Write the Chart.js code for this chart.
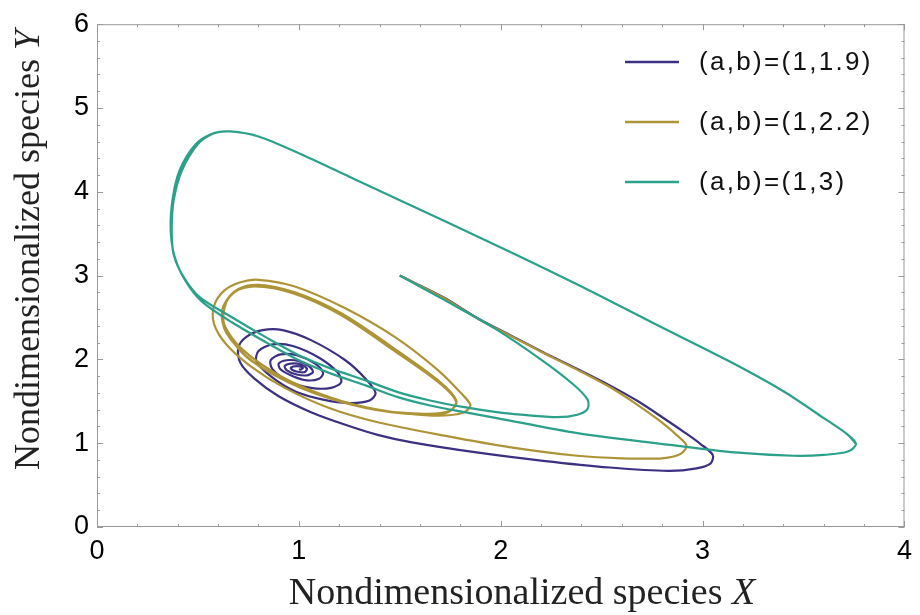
<!DOCTYPE html>
<html>
<head>
<meta charset="utf-8">
<script src="https://cdn.jsdelivr.net/npm/chart.js@4.4.0/dist/chart.umd.min.js"></script>
<style>
    html, body { margin: 0; padding: 0; background: #fff; }
    #wrap { width: 920px; height: 615px; }
</style>
</head>
<body>
<div id="wrap"><canvas id="phaseChart" width="920" height="615"></canvas></div>
<script>
// ==================== Data ====================
const seriesLabels = ['(a,b)=(1,1.9)', '(a,b)=(1,2.2)', '(a,b)=(1,3)'];
const seriesColors = ['#3b3082', '#ad9437', '#2ba08b'];

const xTicks = [0, 1, 2, 3, 4];
const yTicks = [0, 1, 2, 3, 4, 5, 6];

// b = 1.9 : spiral into the fixed point
const pathB19 = [
    [1.50,3.00],[1.72,2.735],[1.89,2.485],[2.05,2.285],[2.21,2.085],[2.38,1.885],[2.54,1.69],[2.68,1.50],
    [2.80,1.31],[2.91,1.13],[2.99,0.99],[3.05,0.86],[3.04,0.76],[2.97,0.70],[2.83,0.67],[2.54,0.71],
    [2.21,0.79],[1.88,0.89],[1.56,1.01],[1.39,1.10],[1.23,1.22],[1.06,1.37],[0.90,1.56],[0.78,1.77],
    [0.71,1.96],[0.70,2.14],[0.74,2.27],[0.82,2.35],[0.92,2.35],[1.06,2.23],[1.23,1.99],[1.33,1.77],
    [1.38,1.60],[1.35,1.51],[1.25,1.48],[1.12,1.52],[0.98,1.62],[0.86,1.80],[0.79,1.98],[0.80,2.10],
    [0.87,2.18],[0.97,2.16],[1.10,2.02],[1.19,1.85],[1.21,1.73],[1.16,1.66],[1.06,1.66],[0.95,1.74],
    [0.87,1.88],[0.86,1.99],[0.91,2.06],[0.99,2.05],[1.08,1.95],[1.12,1.84],[1.10,1.77],[1.04,1.75],
    [0.97,1.80],[0.91,1.88],[0.90,1.95],[0.94,1.99],[1.00,1.98],[1.05,1.92],[1.07,1.85],[1.04,1.81],
    [0.99,1.82],[0.94,1.87],[0.93,1.92],[0.96,1.95],[1.01,1.94],[1.04,1.89],[1.03,1.85],[1.00,1.85],
    [0.97,1.87],[0.96,1.90],[0.99,1.92],[1.02,1.90],[1.01,1.88],[1.00,1.88]
];

// b = 2.2 : small limit cycle
const pathB22 = [
    [1.50,3.00],[1.72,2.73],[1.89,2.48],[2.05,2.28],[2.21,2.08],[2.38,1.875],[2.54,1.67],[2.67,1.47],
    [2.78,1.28],[2.87,1.10],[2.92,0.97],[2.89,0.87],[2.80,0.82],[2.60,0.82],[2.38,0.85],[2.05,0.95],
    [1.72,1.09],[1.39,1.25],[1.15,1.42],[0.93,1.66],[0.76,1.92],[0.64,2.18],[0.58,2.42],[0.58,2.64],
    [0.63,2.82],[0.71,2.92],[0.80,2.95],[0.98,2.87],[1.23,2.61],[1.48,2.26],[1.69,1.87],[1.81,1.58],
    [1.85,1.45],[1.81,1.36],[1.66,1.33],[1.39,1.40],[1.15,1.55],[0.91,1.80],[0.72,2.12],[0.63,2.42],
    [0.64,2.68],[0.70,2.84],[0.80,2.89],[0.98,2.80],[1.21,2.55],[1.49,2.10],[1.70,1.73],[1.78,1.51],
    [1.75,1.39],[1.62,1.35],[1.34,1.42],[1.02,1.65],[0.77,1.98],[0.64,2.32],[0.62,2.58],[0.68,2.80],
    [0.78,2.87],[0.97,2.79],[1.20,2.54],[1.48,2.09],[1.70,1.71],[1.78,1.49],[1.74,1.37],[1.61,1.34],
    [1.33,1.42],[1.01,1.66],[0.76,1.99],[0.64,2.33],[0.62,2.59],[0.68,2.81],[0.78,2.88],[0.97,2.80],
    [1.20,2.55]
];

// b = 3 : large limit cycle
const pathB3 = [
    [1.50,3.00],[1.72,2.71],[1.97,2.37],[2.21,1.98],[2.36,1.70],[2.43,1.52],[2.43,1.41],[2.38,1.34],
    [2.28,1.31],[2.10,1.34],[1.98,1.37],[1.82,1.43],[1.65,1.51],[1.49,1.61],[1.33,1.75],[1.16,1.89],
    [1.00,2.05],[0.84,2.26],[0.67,2.50],[0.51,2.74],[0.43,2.98],[0.38,3.25],[0.37,3.55],[0.38,3.90],
    [0.42,4.25],[0.50,4.57],[0.58,4.70],[0.66,4.72],[0.80,4.66],[1.00,4.46],[1.25,4.18],[1.50,3.90],
    [1.74,3.63],[2.05,3.28],[2.40,2.87],[2.75,2.44],[3.13,1.98],[3.40,1.62],[3.60,1.30],[3.72,1.10],
    [3.76,0.99],[3.72,0.90],[3.60,0.86],[3.45,0.85],[3.16,0.89],[2.87,0.97],[2.38,1.12],[1.98,1.30],
    [1.82,1.37],[1.65,1.45],[1.49,1.55],[1.33,1.69],[1.16,1.83],[1.00,1.99],[0.84,2.20],[0.67,2.44],
    [0.52,2.69],[0.44,2.93],[0.385,3.22],[0.365,3.55],[0.375,3.92],[0.41,4.26],[0.49,4.57],[0.58,4.70],
    [0.66,4.72],[0.80,4.66],[1.00,4.46],[1.25,4.18],[1.50,3.90],[1.74,3.63],[2.05,3.28],[2.40,2.87],
    [2.75,2.44],[3.13,1.98],[3.40,1.62],[3.60,1.30],[3.72,1.10],[3.76,0.99]
];

const seriesPaths = [pathB19, pathB22, pathB3];

// ==================== Plugins ====================
const AXIS_GRAY = '#9a9a9a';

// frame with inward ticks, like the original plot
const frameTicks = {
    id: 'frameTicks',
    afterDatasetsDraw(chart) {
        const { ctx, chartArea: a, scales: { x, y } } = chart;
        ctx.save();
        ctx.strokeStyle = AXIS_GRAY;
        ctx.lineWidth = 1;
        ctx.strokeRect(a.left + 0.5, a.top + 0.5, a.right - a.left - 1, a.bottom - a.top - 1);

        ctx.beginPath();
        for (let i = 0; i <= 20; i++) {
            const len = (i % 5 === 0) ? 6 : 3;
            const px = Math.round(x.getPixelForValue(i * 0.2)) + 0.5;
            ctx.moveTo(px, a.bottom); ctx.lineTo(px, a.bottom - len);
            ctx.moveTo(px, a.top); ctx.lineTo(px, a.top + len);
        }
        for (let i = 0; i <= 30; i++) {
            const len = (i % 5 === 0) ? 6 : 3;
            const py = Math.round(y.getPixelForValue(i * 0.2)) + 0.5;
            ctx.moveTo(a.left, py); ctx.lineTo(a.left + len, py);
            ctx.moveTo(a.right, py); ctx.lineTo(a.right - len, py);
        }
        ctx.stroke();
        ctx.restore();
    }
};

// axis titles with italic variable name
function drawMixedTitle(ctx, plain, italic, cx, cy, size) {
    const roman = size + 'px "Liberation Serif", serif';
    const slant = 'italic ' + size + 'px "Liberation Serif", serif';
    ctx.font = roman;
    const w1 = ctx.measureText(plain).width;
    ctx.font = slant;
    const w2 = ctx.measureText(italic).width;
    const start = cx - (w1 + w2) / 2;
    ctx.textAlign = 'left';
    ctx.textBaseline = 'middle';
    ctx.font = roman;
    ctx.fillText(plain, start, cy);
    ctx.font = slant;
    ctx.fillText(italic, start + w1, cy);
}

const axisTitles = {
    id: 'axisTitles',
    afterDraw(chart) {
        const ctx = chart.ctx;
        ctx.save();
        ctx.fillStyle = '#222';
        drawMixedTitle(ctx, 'Nondimensionalized species ', 'X', 522, 594, 38);
        ctx.translate(30, 250);
        ctx.rotate(-Math.PI / 2);
        drawMixedTitle(ctx, 'Nondimensionalized species ', 'Y', 0, 0, 36);
        ctx.restore();
    }
};

// legend in the upper right corner of the plot
const insideLegend = {
    id: 'insideLegend',
    afterDraw(chart) {
        const ctx = chart.ctx;
        ctx.save();
        ctx.font = '26px "Liberation Sans", Arial, sans-serif';
        ctx.letterSpacing = '2.3px';
        ctx.textAlign = 'left';
        ctx.textBaseline = 'middle';
        seriesLabels.forEach((label, i) => {
            const yy = 62 + i * 60;
            ctx.strokeStyle = seriesColors[i];
            ctx.lineWidth = 2.5;
            ctx.beginPath();
            ctx.moveTo(625, yy);
            ctx.lineTo(679, yy);
            ctx.stroke();
            ctx.fillStyle = '#111';
            ctx.fillText(label, 699, yy + 1);
        });
        ctx.restore();
    }
};

// ==================== Chart ====================
const tickFont = { family: '"Liberation Sans", Arial, sans-serif', size: 27 };
const drawOrder = [2, 1, 0]; // teal on top, purple underneath

const phaseCtx = document.getElementById('phaseChart').getContext('2d');
const phaseChart = new Chart(phaseCtx, {
    type: 'scatter',
    data: {
        datasets: seriesPaths.map((path, i) => ({
            label: seriesLabels[i],
            data: path.map(p => ({ x: p[0], y: p[1] })),
            showLine: true,
            borderColor: seriesColors[i],
            borderWidth: 2.2,
            pointRadius: 0,
            tension: 0.3,
            fill: false,
            order: drawOrder[i]
        }))
    },
    options: {
        responsive: false,
        animation: false,
        layout: { padding: { top: 20, right: 10, left: 0, bottom: 0 } },
        plugins: {
            legend: { display: false },
            tooltip: { enabled: false }
        },
        scales: {
            x: {
                type: 'linear',
                min: 0,
                max: 4,
                afterFit: (scale) => { scale.height = 88; },
                afterBuildTicks: (scale) => { scale.ticks = xTicks.map(v => ({ value: v })); },
                grid: { display: false, drawTicks: false },
                border: { display: false },
                ticks: { color: '#000', font: tickFont, padding: 8, callback: v => String(v) }
            },
            y: {
                type: 'linear',
                min: 0,
                max: 6,
                afterFit: (scale) => { scale.width = 97; },
                afterBuildTicks: (scale) => { scale.ticks = yTicks.map(v => ({ value: v })); },
                grid: { display: false, drawTicks: false },
                border: { display: false },
                ticks: { color: '#000', font: tickFont, padding: 8, callback: v => String(v) }
            }
        }
    },
    plugins: [frameTicks, axisTitles, insideLegend]
});
</script>
</body>
</html>
